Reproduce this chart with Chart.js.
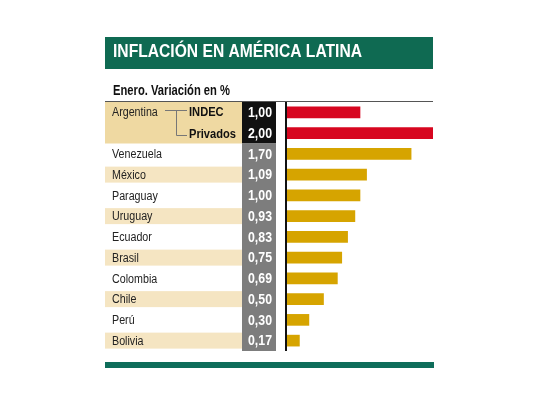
<!DOCTYPE html>
<html lang="es">
<head>
<meta charset="utf-8">
<title>Inflación en América Latina</title>
<script src="https://cdn.jsdelivr.net/npm/chart.js@4.4.1/dist/chart.umd.min.js"></script>
<style>
  html, body { margin: 0; padding: 0; background: #fff; }
  canvas { display: block; }
</style>
</head>
<body>
<canvas id="chart" width="540" height="405"></canvas>
<script>
const titulo = "INFLACIÓN EN AMÉRICA LATINA";
const subtitulo = "Enero. Variación en %";
const grupoArgentina = "Argentina";
const filas = ["INDEC", "Privados", "Venezuela", "México", "Paraguay", "Uruguay",
  "Ecuador", "Brasil", "Colombia", "Chile", "Perú", "Bolivia"];
const valores = [1.00, 2.00, 1.70, 1.09, 1.00, 0.93, 0.83, 0.75, 0.69, 0.50, 0.30, 0.17];

const FUENTE = '"Liberation Sans", Arial, sans-serif';
const VERDE = "#0f6a52";
const ROJO = "#d7061f";
const DORADO = "#d6a400";
const TOSTADO = "#efd9a2";
const FRANJA = "#f5e5c2";

// etiqueta con coma decimal, como en el original
const formato = v => v.toFixed(2).replace(".", ",");

// la tipografía original es condensada: se estrecha en horizontal
// con un factor fijo por estilo, calculado desde un texto de muestra
function factor(ctx, font, muestra, ancho) {
  ctx.font = font;
  return ancho / ctx.measureText(muestra).width;
}

function texto(ctx, str, x, y, font, k, align = "left") {
  ctx.save();
  ctx.font = font;
  ctx.textAlign = align;
  ctx.translate(x, y);
  ctx.scale(k, 1);
  ctx.fillText(str, 0, 0);
  ctx.restore();
}

const marco = {
  id: "marco",
  beforeDatasetsDraw(chart) {
    const ctx = chart.ctx;
    const area = chart.chartArea;
    const y = chart.scales.y;
    const paso = area.height / filas.length;
    const centro = i => y.getPixelForValue(i);

    const fTitulo = "bold 18px " + FUENTE;
    const fSub = "bold 14px " + FUENTE;
    const fValor = "bold 14px " + FUENTE;
    const fPais = "12px " + FUENTE;
    const fFuente = "bold 12.5px " + FUENTE;
    const kTitulo = factor(ctx, fTitulo, titulo, 249);
    const kSub = factor(ctx, fSub, subtitulo, 117);
    const kValor = factor(ctx, fValor, "1,70", 24);
    const kPais = factor(ctx, fPais, "Venezuela", 50);
    const kFuente = factor(ctx, fFuente, "Privados", 47);

    ctx.save();
    ctx.fillStyle = "#fff";
    ctx.fillRect(0, 0, chart.width, chart.height);

    // cabecera verde
    ctx.fillStyle = VERDE;
    ctx.fillRect(105, 37, 328, 32);
    ctx.fillStyle = "#fff";
    ctx.textBaseline = "alphabetic";
    texto(ctx, titulo, 113, 56.5, fTitulo, kTitulo);

    ctx.fillStyle = "#111";
    texto(ctx, subtitulo, 113, 95, fSub, kSub);

    ctx.strokeStyle = "#555";
    ctx.lineWidth = 1;
    ctx.beginPath();
    ctx.moveTo(105, area.top - 0.5);
    ctx.lineTo(433, area.top - 0.5);
    ctx.stroke();

    // fondo de Argentina y franjas alternas
    const finArg = centro(1) + paso / 2;
    ctx.fillStyle = TOSTADO;
    ctx.fillRect(105, area.top, 137, finArg - area.top);
    ctx.fillStyle = FRANJA;
    filas.forEach((f, i) => {
      if (i >= 3 && i % 2 === 1) ctx.fillRect(105, centro(i) - 8, 137, 16);
    });

    // columna de valores
    ctx.fillStyle = "#111";
    ctx.fillRect(242, area.top, 34, finArg - area.top);
    ctx.fillStyle = "#7d7d7d";
    ctx.fillRect(242, finArg, 34, area.bottom - finArg);

    ctx.textBaseline = "middle";
    ctx.fillStyle = "#fff";
    valores.forEach((v, i) => texto(ctx, formato(v), 272, centro(i) + 1, fValor, kValor, "right"));

    // nombres
    ctx.fillStyle = "#222";
    texto(ctx, grupoArgentina, 112, centro(0), fPais, kPais);
    filas.forEach((f, i) => {
      if (i >= 2) texto(ctx, f, 112, centro(i) + 1, fPais, kPais);
    });
    ctx.fillStyle = "#111";
    texto(ctx, filas[0], 189, centro(0) + 0.5, fFuente, kFuente);
    texto(ctx, filas[1], 189, centro(1) + 1, fFuente, kFuente);

    // conector de Argentina
    const yA = Math.round(centro(0)) - 1.5;
    const yB = Math.round(centro(1)) + 2.5;
    ctx.strokeStyle = "#777";
    ctx.lineWidth = 1;
    ctx.beginPath();
    ctx.moveTo(165, yA);
    ctx.lineTo(187, yA);
    ctx.moveTo(176.5, yA);
    ctx.lineTo(176.5, yB);
    ctx.lineTo(187, yB);
    ctx.stroke();

    // eje vertical
    ctx.strokeStyle = "#111";
    ctx.lineWidth = 2;
    ctx.beginPath();
    ctx.moveTo(286, area.top);
    ctx.lineTo(286, area.bottom);
    ctx.stroke();

    // banda inferior
    ctx.fillStyle = "#0e6d5a";
    ctx.fillRect(105, 362, 329, 6);
    ctx.restore();
  }
};

new Chart(document.getElementById("chart"), {
  type: "bar",
  data: {
    labels: filas,
    datasets: [{
      data: valores,
      backgroundColor: valores.map((v, i) => i < 2 ? ROJO : DORADO),
      borderWidth: 0,
      barThickness: 11
    }]
  },
  options: {
    indexAxis: "y",
    responsive: false,
    animation: false,
    layout: { padding: { left: 287, right: 107, top: 102, bottom: 54 } },
    scales: {
      x: { display: false, min: 0, max: 2 },
      y: { display: false }
    },
    plugins: { legend: { display: false }, tooltip: { enabled: false } }
  },
  plugins: [marco]
});
</script>
</body>
</html>
